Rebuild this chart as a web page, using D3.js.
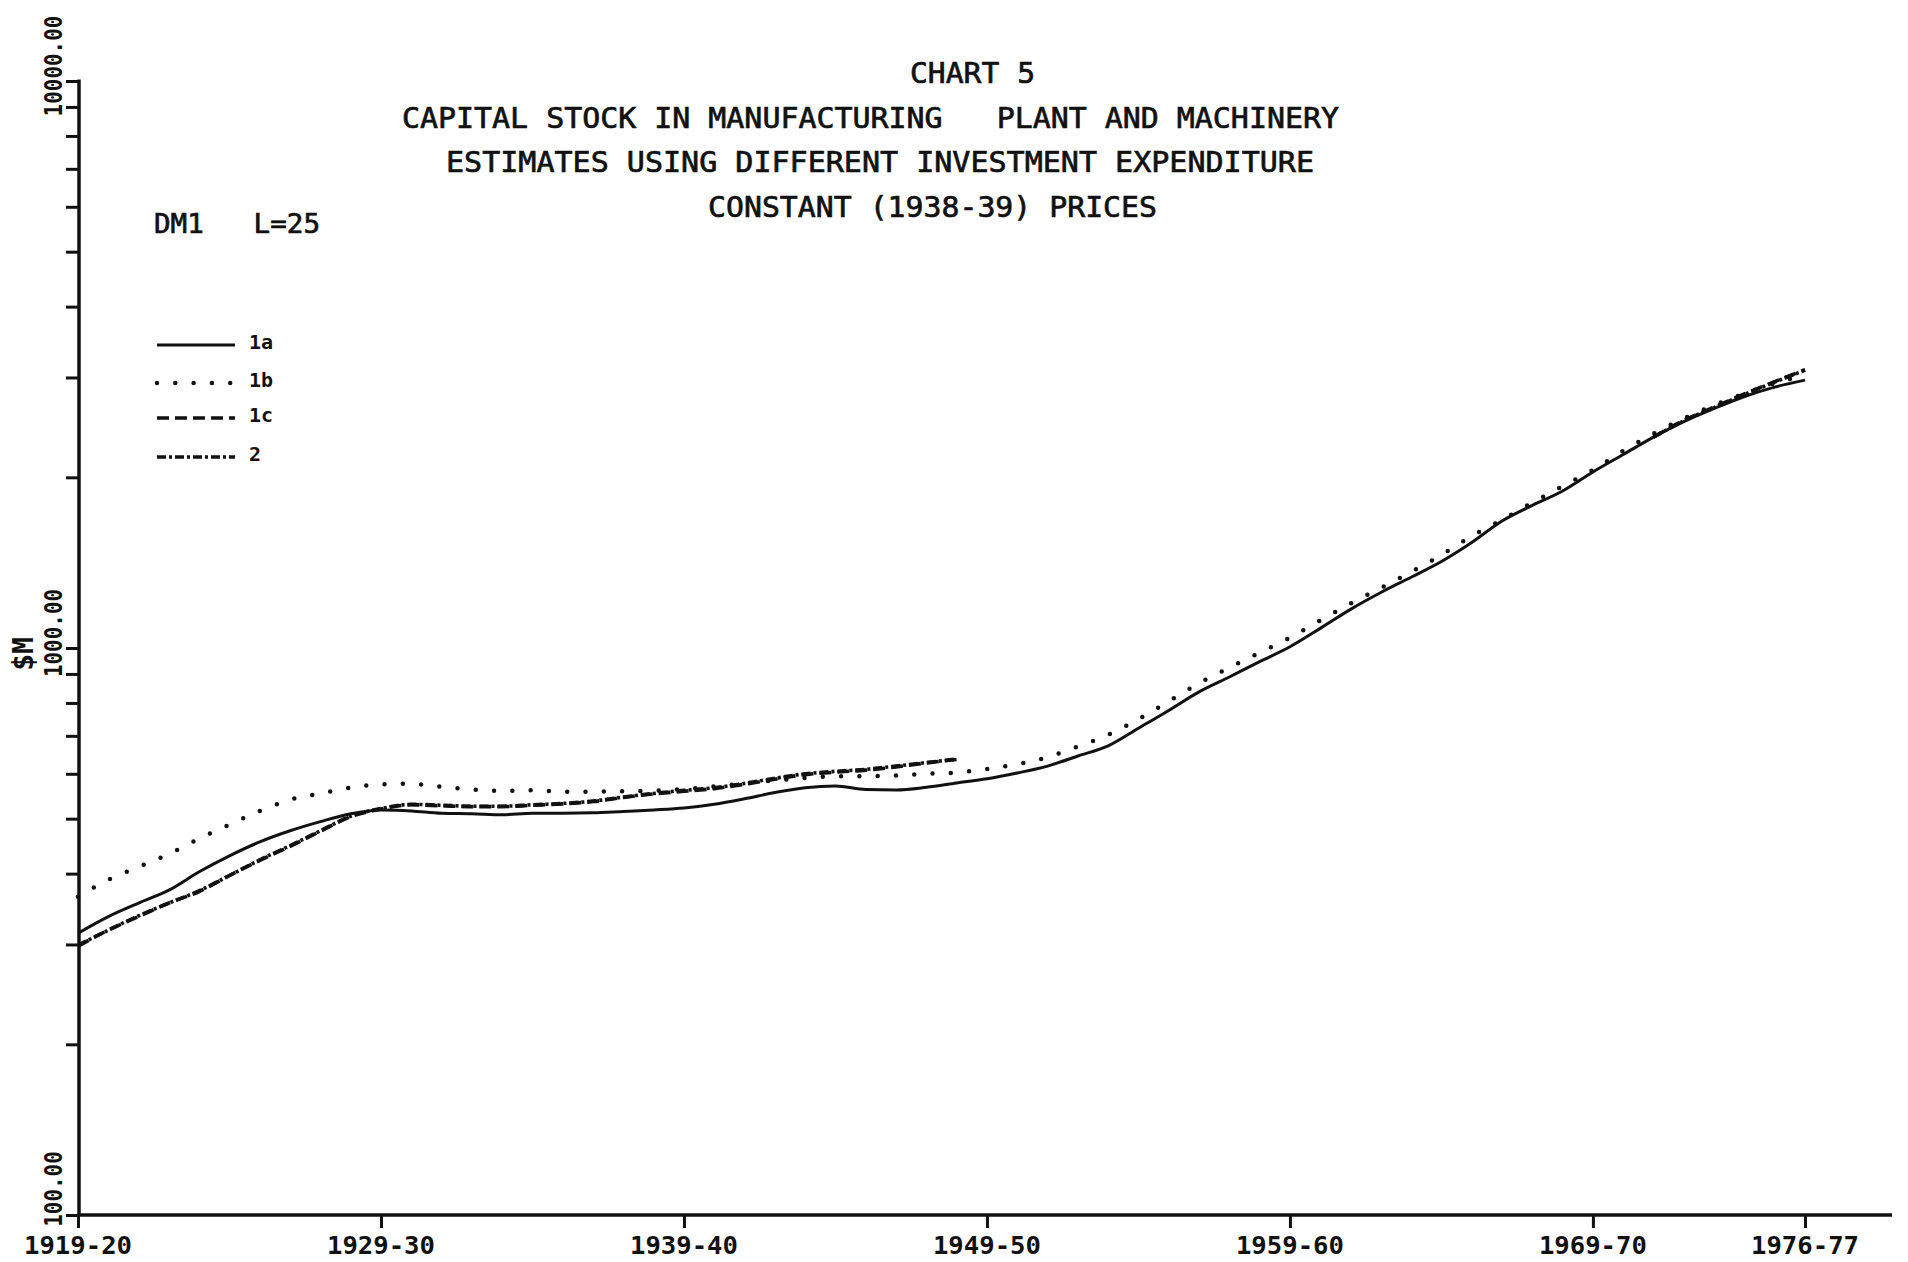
<!DOCTYPE html>
<html>
<head>
<meta charset="utf-8">
<script src="https://cdn.jsdelivr.net/npm/d3@7"></script>
<style>
  html, body { margin: 0; padding: 0; background: #fff; }
  svg { display: block; }
  text { fill: #111; white-space: pre; }
</style>
</head>
<body>
<svg id="chart" width="1908" height="1262"></svg>
<script>
// ---------------- DATA ----------------
const categories = ["1919-20","1920-21","1921-22","1922-23","1923-24","1924-25","1925-26","1926-27","1927-28","1928-29",
  "1929-30","1930-31","1931-32","1932-33","1933-34","1934-35","1935-36","1936-37","1937-38","1938-39",
  "1939-40","1940-41","1941-42","1942-43","1943-44","1944-45","1945-46","1946-47","1947-48","1948-49",
  "1949-50","1950-51","1951-52","1952-53","1953-54","1954-55","1955-56","1956-57","1957-58","1958-59",
  "1959-60","1960-61","1961-62","1962-63","1963-64","1964-65","1965-66","1966-67","1967-68","1968-69",
  "1969-70","1970-71","1971-72","1972-73","1973-74","1974-75","1975-76","1976-77"];

const xTickLabels = ["1919-20","1929-30","1939-40","1949-50","1959-60","1969-70","1976-77"];

const yTickValues = [100,200,300,400,500,600,700,800,900,1000,2000,3000,4000,5000,6000,7000,8000,9000,10000];
const yLabelValues = [100, 1000, 10000];
const yLabels = ["100.00", "1000.00", "10000.00"];

// Series 1a (solid)
const series1a = [314,336,355,374,403,430,455,476,494,510,
  518,516,511,510,508,511,511,512,515,518,
  522,530,542,556,567,571,563,562,568,578,
  588,602,619,645,672,722,776,837,889,946,
  1005,1083,1170,1253,1333,1421,1535,1675,1785,1892,
  2044,2194,2355,2508,2645,2777,2885,2968];

// Series 1b (dotted)
const series1b = [364,390,411,433,461,488,516,540,554,567,
  575,576,569,563,560,561,558,558,559,560,
  564,570,577,584,590,594,594,596,600,603,
  612,624,642,670,703,749,805,867,923,981,
  1043,1118,1198,1276,1362,1459,1576,1682,1805,1930,
  2060,2228,2387,2540,2680,2810,2930,3030];

// Series 1c (dashed)
const series1c = [298,318,336,355,372,397,422,447,475,504,
  520,529,527,525,525,528,531,536,545,553,
  559,565,575,587,598,604,609,617,627,636,
  null,null,null,null,null,null,null,null,null,null,
  null,null,null,null,null,null,null,null,null,null,
  null,null,2355,2520,2660,2805,2950,3095];

// Series 2 (dash-dot)
const series2 = [299,318,337,355,373,397,423,448,476,505,
  521,530,528,526,526,529,532,537,546,554,
  561,567,577,589,600,606,611,619,628,637,
  null,null,null,null,null,null,null,null,null,null,
  null,null,null,null,null,null,null,null,null,null,
  null,null,2355,2515,2655,2800,2945,3090];

const seriesNames = ["1a", "1b", "1c", "2"];

const titleLines = [
  "CHART 5",
  "CAPITAL STOCK IN MANUFACTURING   PLANT AND MACHINERY",
  "ESTIMATES USING DIFFERENT INVESTMENT EXPENDITURE",
  "CONSTANT (1938-39) PRICES"
];
const subLabel = "DM1   L=25";
const yAxisTitle = "$M";

// ---------------- DRAWING ----------------
const svg = d3.select("#chart");
const INK = "#111";
const MONO = "'DejaVu Sans Mono', 'Liberation Mono', monospace";

const x = d3.scalePoint().domain(categories).range([78, 1805]);
const y = d3.scaleLog().domain([100, 10000]).range([1215, 81]);

// Title block
const titleLayout = [
  {x: 910, y: 83, len: 125},
  {x: 402, y: 128, len: 937},
  {x: 446, y: 172, len: 868},
  {x: 708, y: 217, len: 449}
];
titleLines.forEach((t, k) => {
  svg.append("text")
    .attr("x", titleLayout[k].x).attr("y", titleLayout[k].y)
    .attr("xml:space", "preserve")
    .attr("textLength", titleLayout[k].len).attr("lengthAdjust", "spacingAndGlyphs")
    .style("font-family", MONO).style("font-size", "29px")
    .attr("stroke", INK).attr("stroke-width", 0.7)
    .text(t);
});

svg.append("text")
  .attr("x", 154).attr("y", 233)
  .attr("xml:space", "preserve")
  .attr("textLength", 166).attr("lengthAdjust", "spacingAndGlyphs")
  .style("font-family", MONO).style("font-size", "27px")
  .attr("stroke", INK).attr("stroke-width", 0.7)
  .text(subLabel);

// Y axis
const yAxis = d3.axisLeft(y).tickValues(yTickValues).tickSize(13).tickFormat("");
const gy = svg.append("g").attr("transform", "translate(79,0)").call(yAxis);
gy.select(".domain").remove();
gy.selectAll(".tick line").attr("stroke", INK).attr("stroke-width", 3);
svg.append("line").attr("x1", 79).attr("x2", 79).attr("y1", y(10000) - 1.5).attr("y2", y(100))
  .attr("stroke", INK).attr("stroke-width", 3.5);

const yLabelShift = [-26, -15, -15];
yLabelValues.forEach((v, k) => {
  svg.append("text")
    .attr("transform", `translate(62,${y(v) + yLabelShift[k]}) rotate(-90)`)
    .attr("text-anchor", "middle")
    .attr("textLength", yLabels[k].length * 12.6).attr("lengthAdjust", "spacingAndGlyphs")
    .style("font-family", MONO).style("font-size", "24px").style("font-weight", "bold")
    .text(yLabels[k]);
});

svg.append("text")
  .attr("transform", `translate(33,654) rotate(-90)`)
  .attr("text-anchor", "middle")
  .style("font-family", MONO).style("font-size", "28px").style("font-weight", "bold")
  .text(yAxisTitle);

// X axis
const xAxis = d3.axisBottom(x).tickValues(xTickLabels).tickSize(13).tickFormat("");
const gx = svg.append("g").attr("transform", "translate(0,1215)").call(xAxis);
gx.select(".domain").remove();
gx.selectAll(".tick line").attr("stroke", INK).attr("stroke-width", 3);
svg.append("line").attr("x1", 77.5).attr("x2", 1892).attr("y1", 1215).attr("y2", 1215)
  .attr("stroke", INK).attr("stroke-width", 3.5);

xTickLabels.forEach(lbl => {
  svg.append("text")
    .attr("x", x(lbl)).attr("y", 1254)
    .attr("text-anchor", "middle")
    .attr("textLength", 108).attr("lengthAdjust", "spacingAndGlyphs")
    .style("font-family", MONO).style("font-size", "24px").style("font-weight", "bold")
    .text(lbl);
});

// Lines
const line = d3.line()
  .defined(d => d != null)
  .x((d, i) => x(categories[i]))
  .y(d => y(d))
  .curve(d3.curveMonotoneX);

const styles = {
  "1a": {w: 3, dash: null, cap: "butt"},
  "1b": {w: 4.5, dash: "0,18.3", cap: "round"},
  "1c": {w: 3.6, dash: "12,6", cap: "butt"},
  "2":  {w: 3.6, dash: "9,3,3,3", cap: "butt"}
};
const allSeries = [series1a, series1b, series1c, series2];

allSeries.forEach((s, k) => {
  const st = styles[seriesNames[k]];
  svg.append("path")
    .datum(s)
    .attr("d", line)
    .attr("fill", "none")
    .attr("stroke", INK)
    .attr("stroke-width", st.w)
    .attr("stroke-linecap", st.cap)
    .attr("stroke-linejoin", "round")
    .attr("stroke-dasharray", st.dash);
});

// Legend
const legendY = [345, 383, 418, 457];
const legendLine = d3.line();
seriesNames.forEach((name, k) => {
  const st = styles[name];
  svg.append("path")
    .attr("d", legendLine([[157, legendY[k]], [235, legendY[k]]]))
    .attr("fill", "none")
    .attr("stroke", INK)
    .attr("stroke-width", st.w)
    .attr("stroke-linecap", st.cap)
    .attr("stroke-dasharray", st.dash);
  svg.append("text")
    .attr("x", 249).attr("y", legendY[k] + 4)
    .style("font-family", MONO).style("font-size", "20px").style("font-weight", "bold")
    .text(name);
});
</script>
</body>
</html>
